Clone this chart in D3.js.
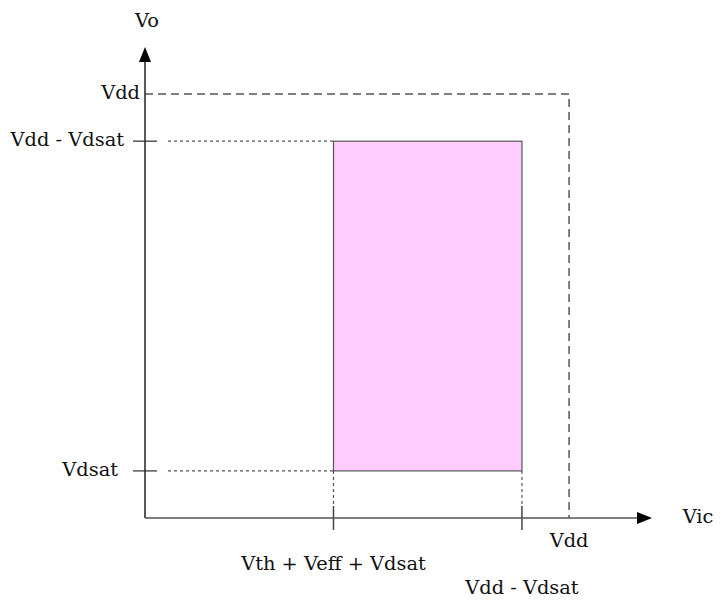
<!DOCTYPE html>
<html><head><meta charset="utf-8">
<script src="https://cdn.jsdelivr.net/npm/d3@7"></script>
<style>body{margin:0;background:#fff}</style>
</head><body>
<script>
// abstract voltage values
const yLevels = [
  {name:"Vdd", value:4.5, style:"dashed"},
  {name:"Vdd - Vdsat", value:4.0, style:"dotted"},
  {name:"Vdsat", value:0.5, style:"dotted"}
];
const xLevels = [
  {name:"Vth + Veff + Vdsat", value:2.0, row:0},
  {name:"Vdd - Vdsat", value:4.0, row:1},
  {name:"Vdd", value:4.5, row:-1}
];
const region = {x0:2.0, x1:4.0, y0:0.5, y1:4.0};
const axisLabels = {x:"Vic", y:"Vo"};

const W=725,H=616;
const svg=d3.select("body").append("svg").attr("width",W).attr("height",H);
const x=d3.scaleLinear().domain([0,5.38]).range([145,652]);
const y=d3.scaleLinear().domain([0,5]).range([518,47]);
const font="DejaVu Serif";
const fs=19.4;

// region rectangle
svg.append("rect").attr("x",x(region.x0)).attr("y",y(region.y1))
  .attr("width",x(region.x1)-x(region.x0)).attr("height",y(region.y0)-y(region.y1))
  .attr("fill","#ffccff").attr("stroke","#555").attr("stroke-width",1.2);

// Vdd dashed box
const vdd=yLevels[0].value;
svg.append("path").attr("d",`M${x(0)},${y(vdd)}H${x(vdd)}V${y(0)}`)
  .attr("fill","none").attr("stroke","#555").attr("stroke-width",1.5).attr("stroke-dasharray","8,5");

// dotted guides
yLevels.filter(d=>d.style==="dotted").forEach(d=>{
  svg.append("line").attr("x1",168).attr("x2",x(region.x0)).attr("y1",y(d.value)).attr("y2",y(d.value))
    .attr("stroke","#555").attr("stroke-width",1.2).attr("stroke-dasharray","3,3");
  svg.append("line").attr("x1",x(0)-12).attr("x2",x(0)+12).attr("y1",y(d.value)).attr("y2",y(d.value))
    .attr("stroke","#555").attr("stroke-width",1.5);
});
[region.x0,region.x1].forEach(v=>{
  svg.append("line").attr("x1",x(v)).attr("x2",x(v)).attr("y1",y(region.y0)).attr("y2",y(0)-13)
    .attr("stroke","#555").attr("stroke-width",1.2).attr("stroke-dasharray","3,3");
  svg.append("line").attr("x1",x(v)).attr("x2",x(v)).attr("y1",y(0)-12).attr("y2",y(0)+12)
    .attr("stroke","#444").attr("stroke-width",1.5);
});

// axes
svg.append("line").attr("x1",x(0)).attr("x2",x(0)).attr("y1",y(0)).attr("y2",y(5)+12)
  .attr("stroke","#222").attr("stroke-width",1.5);
svg.append("path").attr("d",`M${x(0)},${y(5)}L${x(0)-6},${y(5)+15}L${x(0)+6},${y(5)+15}Z`).attr("fill","#000");
svg.append("line").attr("x1",x(0)).attr("x2",x(5.38)-12).attr("y1",y(0)).attr("y2",y(0))
  .attr("stroke","#555").attr("stroke-width",1.5);
svg.append("path").attr("d",`M${x(5.38)},${y(0)}L${x(5.38)-15},${y(0)-6}L${x(5.38)-15},${y(0)+6}Z`).attr("fill","#000");

const txt=(t,px,py,anchor)=>svg.append("text").attr("x",px).attr("y",py).attr("text-anchor",anchor)
  .attr("dominant-baseline","middle").attr("font-family",font).attr("font-size",fs).attr("fill","#111").text(t);

txt(axisLabels.y,x(0)+2,22,"middle");
txt(axisLabels.x,698,518,"middle");
// y labels
txt(yLevels[0].name,140,y(yLevels[0].value),"end");
txt(yLevels[1].name,124,y(yLevels[1].value),"end");
txt(yLevels[2].name,118,y(yLevels[2].value),"end");
// x labels
const rowY={"-1":542,"0":565,"1":589};
xLevels.forEach(d=>txt(d.name,x(d.value),rowY[d.row],"middle"));
</script>
</body></html>
